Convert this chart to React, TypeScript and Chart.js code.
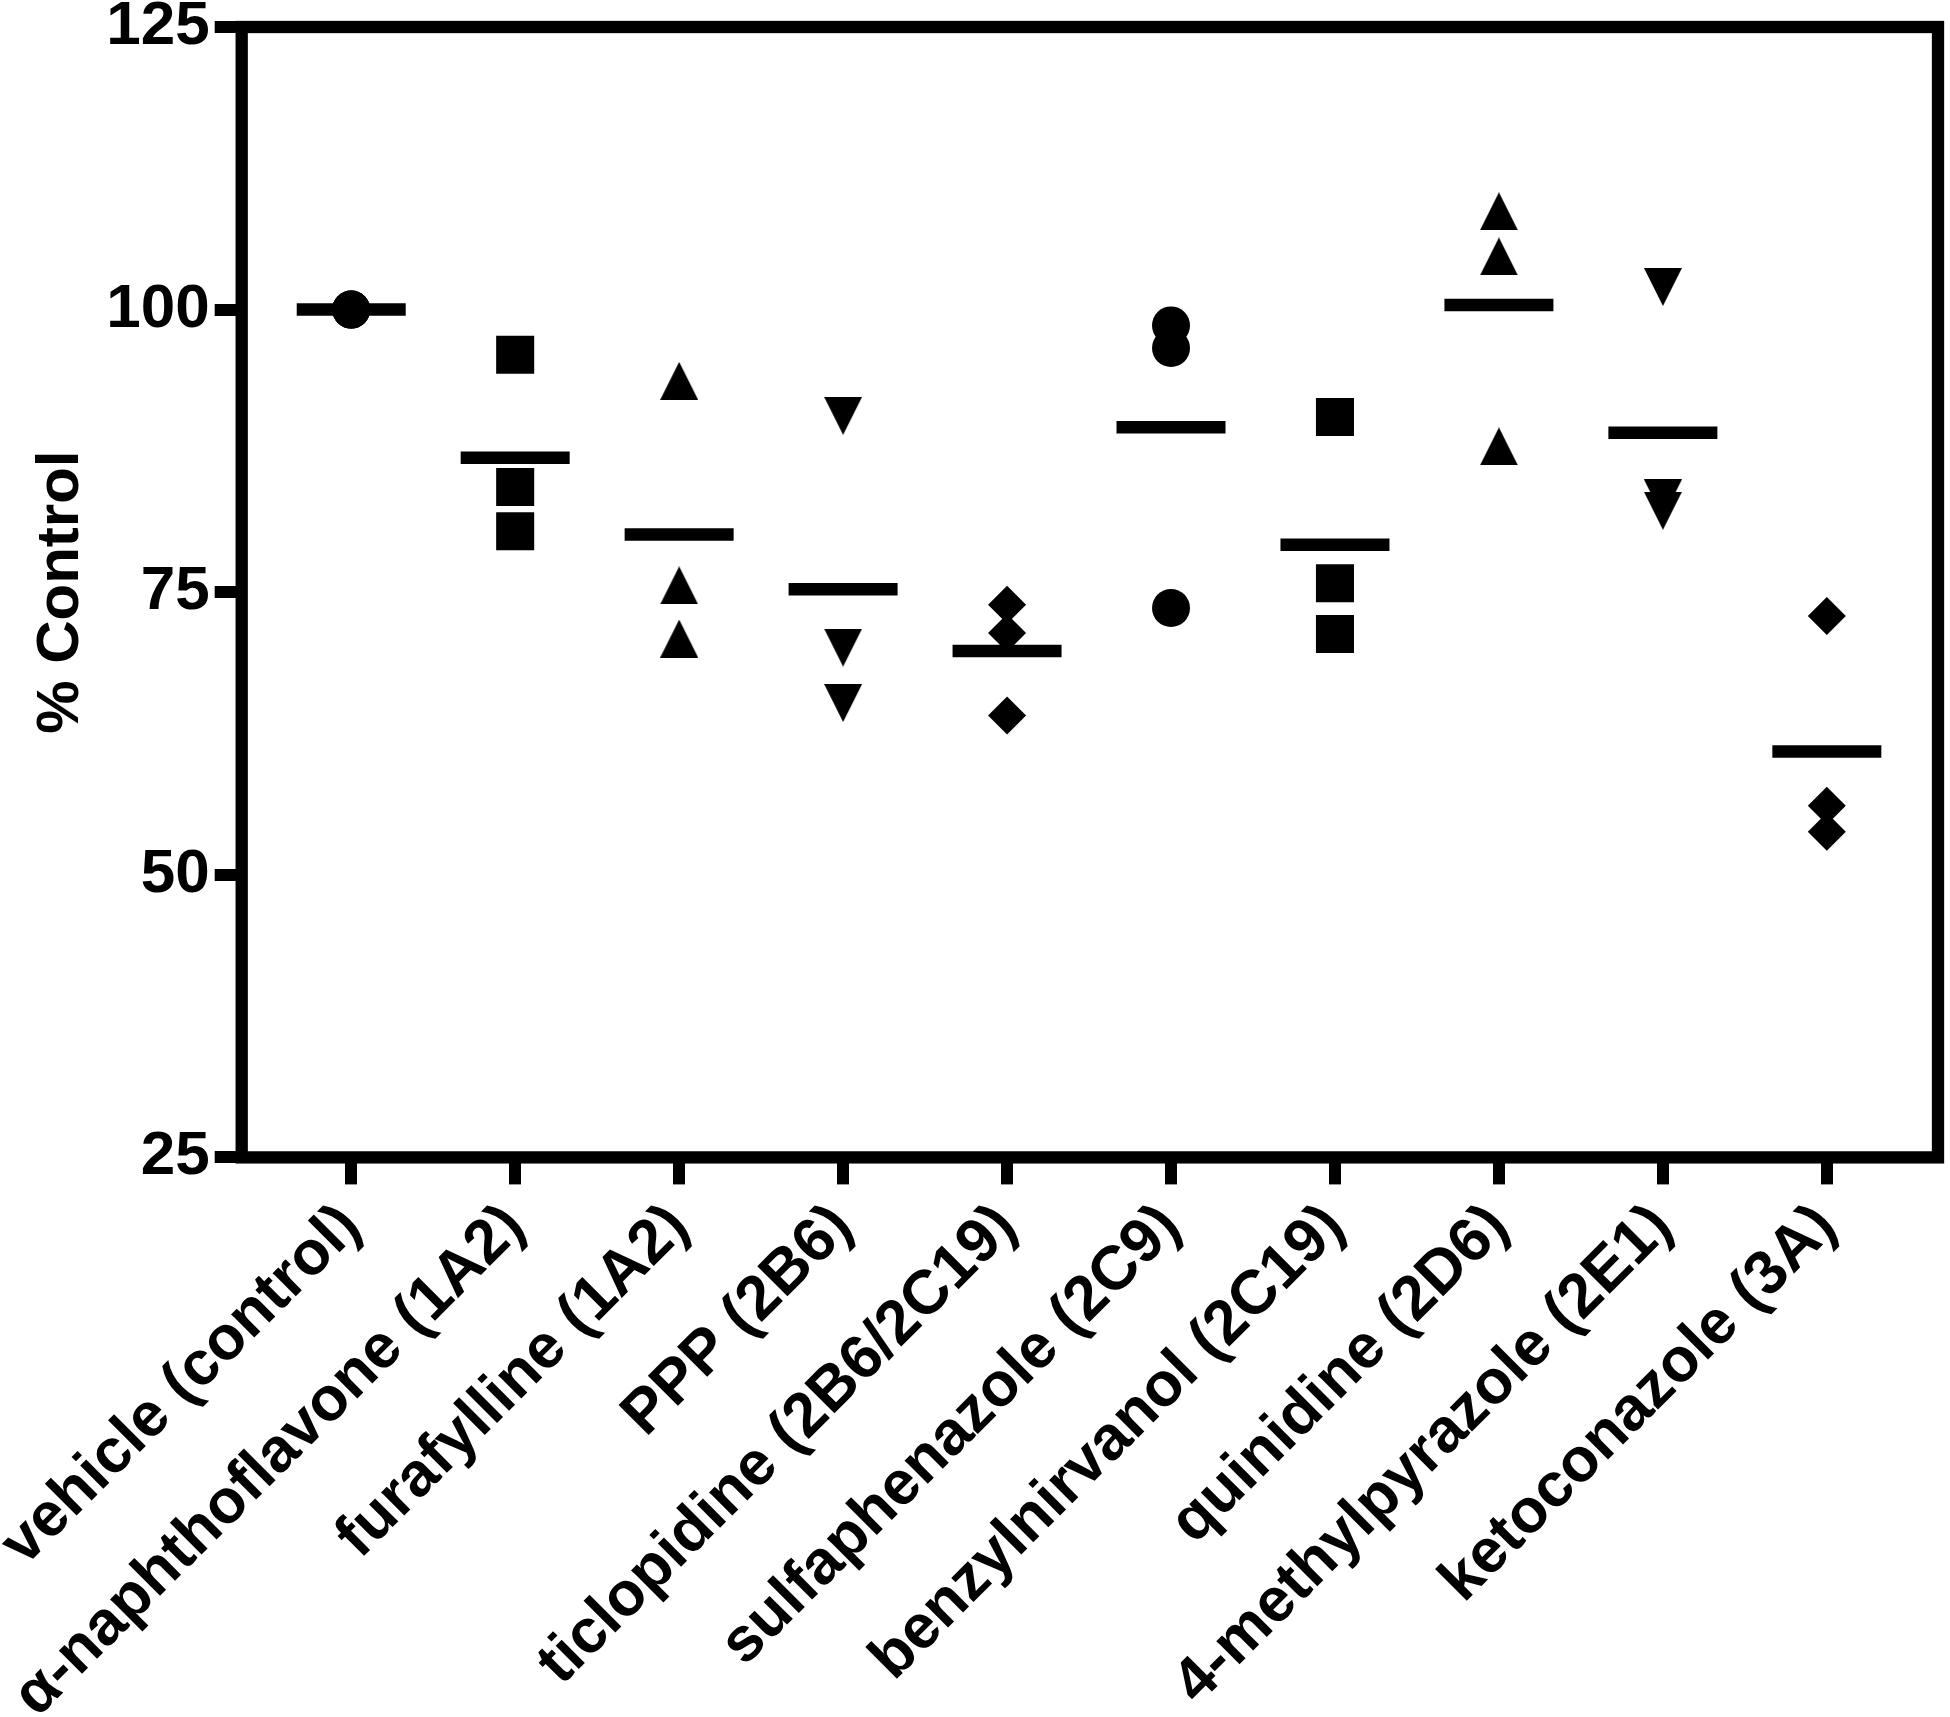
import React, { useEffect, useRef } from 'react';
import { Chart, registerables } from 'chart.js';

Chart.register(...registerables);

const categories = [
  'vehicle (control)',
  'α-naphthoflavone (1A2)',
  'furafylline (1A2)',
  'PPP (2B6)',
  'ticlopidine (2B6/2C19)',
  'sulfaphenazole (2C9)',
  'benzylnirvanol (2C19)',
  'quinidine (2D6)',
  '4-methylpyrazole (2E1)',
  'ketoconazole (3A)',
];

const vehicle = [100, 100, 100];
const alphaNaphthoflavone = [96.0, 84.3, 80.4];
const furafylline = [93.7, 75.6, 70.9];
const ppp = [90.6, 70.1, 65.2];
const ticlopidine = [73.9, 71.4, 64.1];
const sulfaphenazole = [98.6, 96.6, 73.6];
const benzylnirvanol = [90.5, 75.8, 71.3];
const quinidine = [108.7, 104.7, 87.9];
const methylpyrazole = [102.0, 83.3, 82.2];
const ketoconazole = [72.9, 56.1, 53.8];

const groupMeans = [100, 86.9, 80.1, 75.25, 69.8, 89.6, 79.2, 100.4, 89.1, 60.9];

const yTicks = [25, 50, 75, 100, 125];

const FONT = '"Liberation Sans", Arial, Helvetica, sans-serif';

function makeTriangle(down: boolean, size = 38): HTMLCanvasElement {
  const c = document.createElement('canvas');
  c.width = size;
  c.height = size;
  const g = c.getContext('2d')!;
  g.fillStyle = '#000';
  g.beginPath();
  if (down) {
    g.moveTo(0, 0);
    g.lineTo(size, 0);
    g.lineTo(size / 2, size);
  } else {
    g.moveTo(size / 2, 0);
    g.lineTo(size, size);
    g.lineTo(0, size);
  }
  g.closePath();
  g.fill();
  return c;
}

const framePlugin = {
  id: 'frame',
  beforeDatasetsDraw(chart: any) {
    const { ctx, chartArea: a } = chart;
    ctx.save();
    ctx.lineWidth = 12.3;
    ctx.strokeStyle = '#000';
    ctx.lineJoin = 'miter';
    ctx.strokeRect(a.left, a.top, a.right - a.left, a.bottom - a.top);
    ctx.restore();
  },
};

export default function App() {
  const ref = useRef<HTMLCanvasElement | null>(null);

  useEffect(() => {
    if (!ref.current) return;
    const triUp = makeTriangle(false);
    const triDown = makeTriangle(true);

    const groups = [
      vehicle,
      alphaNaphthoflavone,
      furafylline,
      ppp,
      ticlopidine,
      sulfaphenazole,
      benzylnirvanol,
      quinidine,
      methylpyrazole,
      ketoconazole,
    ];
    const styles: any[] = ['circle', 'rect', triUp, triDown, 'rectRot', 'circle', 'rect', triUp, triDown, 'rectRot'];
    const radii = [19, 26.9, 19, 19, 19, 19, 26.9, 19, 19, 19];

    const datasets: any[] = groups.map((vals, i) => ({
      type: 'scatter',
      label: categories[i],
      data: vals.map((v) => ({ x: i, y: v })),
      pointStyle: styles[i],
      pointRadius: radii[i],
      pointHoverRadius: radii[i],
      pointBackgroundColor: '#000',
      pointBorderColor: '#000',
      pointBorderWidth: 0,
      showLine: false,
      clip: false,
    }));

    datasets.push({
      type: 'scatter',
      label: 'mean',
      data: groupMeans.map((v, i) => ({ x: i, y: v })),
      pointStyle: 'line',
      pointRadius: 54.5,
      pointHoverRadius: 54.5,
      pointBackgroundColor: '#000',
      pointBorderColor: '#000',
      pointBorderWidth: 12.5,
      showLine: false,
      clip: false,
    });

    const chart = new Chart(ref.current, {
      type: 'scatter',
      data: { datasets },
      plugins: [framePlugin],
      options: {
        responsive: false,
        animation: false,
        devicePixelRatio: 1,
        events: [],
        layout: { autoPadding: false, padding: { left: 0, top: 27, right: 12, bottom: 0 } },
        plugins: {
          legend: { display: false },
          tooltip: { enabled: false },
        },
        scales: {
          x: {
            type: 'linear',
            min: -0.668,
            max: 9.678,
            afterBuildTicks: (s: any) => {
              s.ticks = categories.map((_, i) => ({ value: i }));
            },
            afterFit: (s: any) => {
              s.height = 559.6;
              s.paddingLeft = 0;
              s.paddingRight = 0;
            },
            border: { display: false },
            grid: {
              drawOnChartArea: false,
              drawTicks: true,
              tickLength: 27,
              tickWidth: 12,
              tickColor: '#000',
              color: '#000',
              lineWidth: 12,
            },
            ticks: {
              autoSkip: false,
              minRotation: 45,
              maxRotation: 45,
              padding: 31,
              color: '#000',
              font: { family: FONT, size: 62, weight: 'bold', lineHeight: 0.05 },
              callback: (v: any) => categories[Math.round(Number(v))] ?? '',
            },
          },
          y: {
            type: 'linear',
            min: 25,
            max: 125,
            afterBuildTicks: (s: any) => {
              s.ticks = yTicks.map((v) => ({ value: v }));
            },
            afterFit: (s: any) => {
              s.width = 241.7;
              s.paddingTop = 0;
              s.paddingBottom = 0;
            },
            border: { display: false },
            grid: {
              drawOnChartArea: false,
              drawTicks: true,
              tickLength: 27,
              tickWidth: 12,
              tickColor: '#000',
              color: '#000',
              lineWidth: 12,
            },
            ticks: {
              padding: 5,
              color: '#000',
              font: { family: FONT, size: 62, weight: 'bold' },
            },
            title: {
              display: true,
              text: '% Control',
              color: '#000',
              font: { family: FONT, size: 60, weight: 'bold' },
              padding: { top: 25.7, bottom: 0 },
            },
          },
        },
      } as any,
    });

    return () => chart.destroy();
  }, []);

  return (
    <div style={{ position: 'absolute', left: 0, top: 0, width: 1950, height: 1717, background: '#fff' }}>
      <canvas ref={ref} width={1950} height={1717} style={{ display: 'block', width: 1950, height: 1717 }} />
    </div>
  );
}
